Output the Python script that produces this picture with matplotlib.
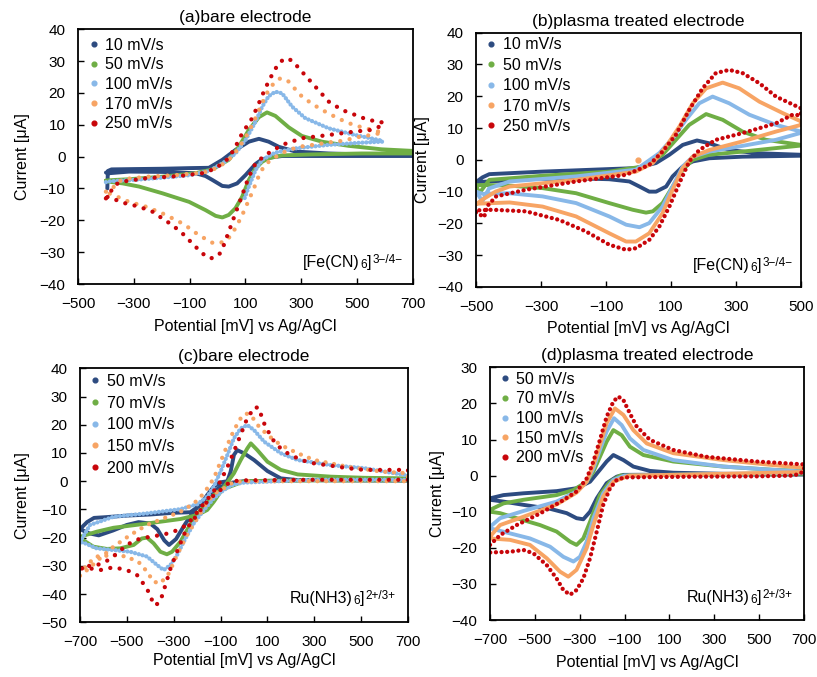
import matplotlib
matplotlib.use('Agg')
import matplotlib.pyplot as plt
from matplotlib.lines import Line2D

plt.rcParams['font.family'] = ['Liberation Sans', 'DejaVu Sans']

# ---------------- data (potential mV, current uA), forward + reverse sweep ----------------
# (a) bare electrode, ferricyanide
a10_E = [-395, -393, -380, -300, -200, -100, -31, 17, 64, 112, 148, 183, 219, 279, 398, 517, 700,
         700, 400, 231, 195, 160, 136, 100, 70, 40, 17, -19, -43, -79, -198, -317, -388, -400]
a10_I = [-10, -4.5, -4.0, -3.9, -3.8, -3.6, -3.5, -1.0, 2.1, 4.7, 5.6, 4.7, 3.1, 1.6, 1.0, 0.7, 0.5,
         0.2, 0.2, 0.2, -0.2, -0.8, -2.3, -5.8, -8.4, -9.4, -9.2, -7.3, -6.1, -5.2, -4.8, -4.7, -5.2, -5.0]
a50_E = [-400, -364, -317, -198, -79, -19, 40, 76, 112, 148, 177, 207, 255, 302, 374, 469, 588, 700,
         700, 517, 338, 231, 183, 160, 136, 112, 88, 64, 40, 17, -7, -43, -102, -198, -281, -340, -388, -400]
a50_I = [-7.5, -7.3, -7.1, -6.3, -5.2, -4.0, -1.0, 3.1, 8.4, 12.4, 13.9, 12.8, 9.2, 6.5, 4.7, 3.4, 2.3, 1.8,
         1.0, 1.0, 0.7, 0.4, -0.5, -1.6, -3.7, -7.3, -12.6, -16.2, -18.3, -19.1, -18.6, -16.8, -14.2, -11.5, -9.4, -8.4, -7.9, -7.6]
a100_E = [-400, -380, -300, -200, -100, -30, 20, 64, 100, 136, 160, 183, 207, 231, 267, 314, 398, 493, 590,
          590, 517, 398, 279, 207, 160, 136, 112, 95]
a100_I = [-8.0, -7.7, -7.3, -6.6, -5.8, -4.5, -2.0, 1.0, 5.2, 11.0, 15.7, 19.0, 20.4, 19.9, 15.7, 12.1, 8.9, 6.8, 5.0,
          4.7, 4.4, 3.7, 2.6, 1.3, -1.0, -4.2, -9.4, -13.5]
a170_E = [-400, -380, -360, -330, -250, -150, -50, 0, 40, 70, 100, 130, 155, 180, 205, 225, 250, 275, 302, 340,
          374, 410, 445, 480, 517, 550, 576, 590,
          590, 550, 500, 450, 400, 350, 300, 250, 200, 170, 150, 130, 110, 90, 70, 50, 30, 0, -20, -50,
          -79, -100, -138, -198, -257, -317, -364, -390]
a170_I = [-11.0, -10.5, -8.0, -7.0, -6.3, -5.8, -5.0, -3.5, -1.0, 2.0, 6.0, 11.0, 16.0, 20.5, 23.5, 24.6, 24.0, 21.5, 18.9, 16.5,
          14.7, 13.0, 11.5, 10.2, 9.2, 8.5, 7.9, 7.6,
          7.5, 6.8, 6.1, 5.0, 4.5, 3.8, 3.2, 2.0, -0.5, -2.5, -5.5, -10.0, -14.0, -18.0, -21.5, -24.5, -26.5, -27.3, -27.0, -25.5,
          -23.9, -22.5, -20.4, -17.8, -15.7, -14.2, -12.4, -11.5]
a250_E = [-400, -393, -370, -346, -257, -138, -55, -7, 40, 64, 88, 124, 148, 171, 195, 219, 243, 267, 302, 350,
          398, 445, 493, 540, 582, 595,
          595, 552, 493, 398, 302, 231, 171, 136, 112, 88, 64, 40, 20, 5, -25, -55, -90, -126, -162, -198,
          -233, -281, -329, -370, -393, -400]
a250_I = [-13.1, -12.6, -9.0, -7.9, -6.8, -6.1, -5.2, -3.7, -0.5, 3.1, 7.3, 12.1, 16.8, 21.5, 25.7, 29.4, 30.9, 30.2, 26.7, 22.0,
          17.3, 14.7, 13.1, 11.5, 11.0, 10.5,
          10.0, 8.4, 7.9, 6.8, 5.8, 3.7, 0.5, -2.1, -6.3, -12.1, -17.8, -23.6, -28.3, -30.9, -32.0, -30.4, -27.3, -24.1, -21.5, -19.4,
          -17.3, -15.7, -14.7, -13.4, -12.6, -13.0]

# (b) plasma treated electrode, ferricyanide
b10_E = [-500, -480, -459, -295, -90, -8, 54, 95, 136, 180, 218, 279, 362, 500,
         500, 320, 218, 167, 136, 105, 85, 54, 33, 3, -28, -90, -192, -346, -459, -500]
b10_I = [-7.0, -5.5, -4.5, -3.7, -2.9, -2.6, -1.0, 1.6, 4.7, 6.1, 5.2, 3.1, 2.1, 1.6,
         1.3, 1.0, 0.5, -0.5, -2.1, -5.2, -8.4, -10.0, -10.0, -8.4, -6.8, -6.1, -5.8, -6.1, -6.8, -7.0]
b50_E = [-500, -490, -459, -295, -90, 13, 74, 115, 156, 208, 259, 320, 392, 500,
         500, 423, 320, 218, 167, 136, 105, 74, 44, 23, -18, -90, -192, -295, -397, -479, -500]
b50_I = [-8.0, -10.5, -6.3, -5.0, -3.7, -2.1, 1.6, 6.3, 11.0, 14.4, 12.6, 8.9, 6.3, 4.7,
         4.5, 3.7, 2.6, 1.6, 0.0, -3.1, -8.4, -13.6, -16.2, -16.6, -15.7, -13.6, -10.5, -8.9, -8.1, -7.9, -8.0]
b100_E = [-500, -480, -460, -397, -192, -8, 64, 105, 146, 187, 228, 279, 341, 423, 500,
          500, 423, 320, 218, 167, 136, 105, 74, 33, 3, -38, -90, -192, -295, -397, -479, -500]
b100_I = [-10.0, -13.0, -9.0, -6.8, -5.2, -3.1, 2.1, 6.8, 12.6, 17.8, 19.9, 17.8, 14.2, 11.0, 8.9,
          8.5, 6.3, 4.4, 2.6, 1.0, -2.1, -8.4, -14.7, -19.9, -21.2, -20.4, -17.8, -13.6, -11.5, -10.5, -10.7, -10.0]
b170_E = [-500, -480, -440, -397, -192, -8, 44, 85, 126, 167, 208, 259, 310, 372, 444, 500,
          500, 423, 320, 218, 167, 136, 105, 74, 33, -8, -38, -90, -192, -295, -397, -500]
b170_I = [-14.0, -12.5, -10.0, -8.4, -6.3, -3.7, -1.0, 4.2, 10.5, 17.8, 22.5, 24.3, 22.5, 18.3, 14.7, 12.1,
          11.0, 8.9, 5.8, 3.1, 1.0, -2.6, -9.4, -16.8, -23.1, -25.7, -25.7, -23.1, -17.8, -14.7, -13.4, -13.8]
b170_stray_E = [-2]
b170_stray_I = [0.0]
b250_E = [-500, -475, -465, -438, -346, -192, -38, 33, 74, 115, 156, 197, 238, 279, 320, 372, 423, 500,
          500, 474, 423, 320, 238, 187, 156, 126, 95, 64, 33, -8, -38, -90, -162, -244, -346, -449, -500]
b250_I = [-16.5, -18.0, -14.5, -11.5, -9.4, -6.8, -4.7, -1.6, 2.6, 7.9, 15.7, 22.5, 27.3, 28.3, 27.3, 24.1, 19.9, 16.2,
          14.0, 14.2, 11.5, 8.4, 6.3, 3.1, -0.5, -7.3, -14.7, -21.0, -25.2, -27.8, -28.3, -26.7, -22.5, -18.9, -16.2, -15.7, -15.9]

# (c) bare electrode, ruthenium hexaammine
c50_E = [-700, -670, -640, -600, -550, -500, -400, -300, -229, -186, -157, -129, -100, -71, -57, -43, -29, 0, 43, 100,
         157, 229, 400, 700,
         700, 300, 0, -50, -100, -150, -200, -250, -290, -320, -340, -370, -400, -450, -500, -560, -620, -660, -700]
c50_I = [-17.0, -14.5, -13.0, -12.8, -12.5, -12.2, -11.8, -11.2, -11.0, -8.4, -4.9, -1.9, -0.4, 0.0, 3.4, 9.3, 11.0, 9.9, 7.5, 3.6,
         1.0, 0.4, 0.3, 0.3,
         0.3, 0.4, 0.0, -0.5, -2.0, -5.0, -9.0, -15.0, -20.5, -22.6, -21.0, -17.0, -15.0, -14.5, -15.5, -17.5, -19.2, -18.5, -17.0]
c70_E = [-700, -629, -557, -414, -271, -200, -157, -129, -100, -71, -43, -14, 14, 29, 57, 100, 157, 229, 371, 514, 700,
         700, 300, 0, -43, -100, -129, -157, -186, -214, -243, -271, -307, -329, -357, -386, -414, -436, -471,
         -529, -586, -643, -686, -700]
c70_I = [-19.7, -17.9, -16.5, -15.0, -13.4, -12.0, -10.2, -7.3, -3.7, -0.4, 2.8, 7.5, 11.6, 13.4, 11.0, 6.9, 4.0, 2.4, 1.6, 1.2, 1.0,
         0.3, 0.3, 0.0, -1.4, -3.1, -4.9, -7.8, -10.2, -13.2, -17.3, -21.4, -25.0, -25.9, -25.0, -22.0, -20.0, -20.3, -22.6,
         -23.8, -24.0, -23.2, -20.9, -20.0]
c100_E = [-700, -657, -557, -414, -271, -200, -157, -129, -100, -71, -43, -14, 14, 43, 86, 157, 229, 371, 514, 700,
          700, 300, 0, -43, -86, -129, -171, -214, -257, -286, -314, -343, -371, -414, -486, -557, -629, -679, -700]
c100_I = [-21.5, -15.5, -12.6, -11.4, -9.9, -8.2, -5.5, -1.9, 3.4, 9.3, 15.2, 18.7, 19.9, 18.1, 14.0, 9.9, 7.5, 5.7, 4.6, 2.0,
          0.5, 0.5, -0.5, -1.1, -3.1, -6.1, -10.2, -14.9, -21.4, -26.2, -29.7, -31.5, -29.7, -26.7, -25.0, -24.4, -23.8, -22.0, -21.5]
c150_E = [-700, -670, -643, -614, -557, -486, -414, -343, -271, -214, -171, -129, -100, -71, -43, -14, 7, 29, 57, 100,
          157, 229, 300, 443, 586, 700,
          700, 300, 0, -50, -71, -114, -157, -200, -243, -286, -321, -357, -386, -414, -443, -500, -557, -629, -670, -700]
c150_I = [-33.5, -31.5, -29.5, -27.3, -23.2, -19.1, -15.5, -13.2, -10.8, -7.9, -4.3, 1.0, 6.9, 12.8, 18.1, 22.3, 24.0, 23.5, 20.0, 16.4,
          12.8, 9.9, 7.5, 5.1, 3.4, 2.8,
          0.0, 0.0, 0.0, -0.5, -1.9, -3.7, -7.3, -13.2, -19.1, -26.2, -32.7, -36.2, -35.6, -32.1, -29.1, -26.7, -26.2, -26.7, -29.5, -33.0]
c200_E = [-700, -660, -620, -580, -540, -500, -443, -400, -343, -300, -243, -214, -186, -157, -129, -100, -71, -43, -14, 10,
          43, 64, 80, 100, 129, 157, 186, 243, 300, 371, 443, 514, 586, 700,
          700, 300, 0, -50, -71, -100, -136, -171, -200, -229, -257, -286, -314, -336, -357, -379, -400, -414, -436, -457,
          -500, -557, -614, -657, -700]
c200_I = [-31.0, -30.0, -29.5, -28.0, -25.5, -22.5, -20.3, -19.7, -18.9, -17.9, -15.5, -12.5, -9.5, -6.5, -3.5, 0.0, 5.0, 10.5, 16.5, 21.5,
          26.2, 26.0, 21.5, 18.1, 14.0, 11.6, 9.9, 7.5, 6.3, 5.5, 4.6, 4.0, 4.0, 4.0,
          0.5, 0.5, 0.3, 0.0, -1.0, -3.1, -5.5, -8.5, -12.0, -14.9, -19.0, -25.0, -31.0, -37.0, -42.5, -44.1, -41.0, -38.0, -35.6, -33.2,
          -31.5, -30.5, -31.5, -30.9, -30.9]

# (d) plasma treated electrode, ruthenium hexaammine
d50_E = [-700, -640, -551, -403, -314, -254, -210, -180, -150, -105, -61, 13, 117, 340, 700,
         700, 192, -105, -135, -180, -224, -254, -284, -314, -358, -432, -551, -640, -700]
d50_I = [-6.3, -5.4, -4.9, -4.3, -3.5, -1.7, 1.6, 3.9, 5.7, 4.3, 2.5, 1.3, 0.8, 0.5, 0.4,
         0.3, 0.3, 0.2, -0.3, -2.1, -6.3, -10.0, -12.1, -11.8, -10.4, -9.2, -8.1, -7.2, -6.7]
d70_E = [-700, -640, -551, -403, -328, -269, -239, -210, -180, -150, -113, -76, -16, 117, 340, 563, 700,
         700, 200, -120, -165, -210, -254, -284, -314, -343, -403, -477, -581, -655, -700]
d70_I = [-9.5, -7.7, -6.7, -5.4, -4.0, -1.7, 1.1, 5.2, 9.4, 12.6, 11.2, 8.0, 5.7, 3.9, 2.5, 1.6, 1.3,
         0.5, 0.3, 0.0, -1.7, -5.4, -12.8, -17.4, -19.2, -18.3, -15.5, -13.7, -11.8, -10.4, -10.0]
d100_E = [-700, -655, -551, -403, -314, -269, -239, -210, -180, -147, -113, -76, -16, 117, 340, 563, 700,
          700, 200, -100, -150, -195, -239, -269, -299, -328, -373, -432, -522, -611, -700]
d100_I = [-14.2, -11.8, -9.8, -7.2, -4.4, -1.7, 2.0, 7.1, 12.2, 15.9, 14.0, 10.3, 7.1, 4.3, 2.5, 1.6, 1.1,
          0.8, 0.3, 0.0, -1.2, -4.9, -11.8, -18.3, -22.5, -23.8, -22.5, -19.7, -17.4, -16.0, -14.6]
d150_E = [-700, -655, -551, -403, -314, -269, -239, -210, -180, -143, -105, -61, -1, 117, 340, 563, 700,
          700, 200, -80, -150, -195, -239, -269, -314, -351, -388, -447, -522, -611, -700]
d150_I = [-16.9, -13.7, -11.4, -8.0, -4.7, -1.7, 2.9, 8.5, 14.5, 18.6, 16.8, 12.6, 8.9, 6.2, 4.3, 2.9, 2.2,
          1.0, 0.3, 0.0, -1.7, -5.8, -13.7, -20.1, -26.1, -28.0, -26.6, -22.9, -19.2, -17.8, -17.4]
d200_E = [-700, -655, -581, -477, -373, -314, -269, -239, -210, -180, -150, -128, -105, -76, -46, 13, 117, 266, 489, 700,
          700, 680, 650, 500, 200, -100, -135, -165, -195, -224, -254, -284, -314, -343, -373, -403, -447, -507, -551,
          -611, -700]
d200_I = [-19.2, -16.5, -13.7, -10.5, -6.8, -4.4, -0.8, 3.9, 9.9, 16.3, 20.5, 21.9, 20.9, 17.2, 13.6, 9.9, 7.1, 5.2, 3.9, 3.1,
          1.3, 0.5, 0.0, -0.2, -0.3, -0.5, -1.2, -3.5, -8.1, -15.5, -22.9, -28.5, -31.7, -33.0, -31.7, -28.5, -24.8, -21.5, -20.6,
          -21.1, -21.3]

labels_fe = ['10 mV/s', '50 mV/s', '100 mV/s', '170 mV/s', '250 mV/s']
labels_ru = ['50 mV/s', '70 mV/s', '100 mV/s', '150 mV/s', '200 mV/s']
titles = ['(a)bare electrode', '(b)plasma treated electrode', '(c)bare electrode', '(d)plasma treated electrode']
xticks_a = [-500, -300, -100, 100, 300, 500, 700]
xticks_b = [-500, -300, -100, 100, 300, 500]
xticks_cd = [-700, -500, -300, -100, 100, 300, 500, 700]
fe_note = [('[Fe(CN)', 'n'), ('6', 'sub'), (']', 'n'), ('3\u2212/4\u2212', 'sup')]
ru_note = [('Ru(NH3)', 'n'), ('6', 'sub'), (']', 'n'), ('2+/3+', 'sup')]

# ---------------- styling ----------------
DB, GR, LB, OR, RD = '#2D4B80', '#6FAE45', '#88B8E8', '#F7A464', '#C8050A'
colors = [DB, GR, LB, OR, RD]

W, H = 817, 677
fig = plt.figure(figsize=(W / 100, H / 100), dpi=100)


def add_ax(l, r, t, b):
    return fig.add_axes([l / W, 1 - b / H, (r - l) / W, (b - t) / H])


def draw(ax, E, I, color, gap=None):
    if gap is None:
        ax.plot(E, I, color=color, lw=2.8, solid_joinstyle='round', solid_capstyle='round')
    else:
        ax.plot(E, I, color=color, lw=3.1, linestyle=(0, (0.01, gap)), dash_capstyle='round')


def note(ax, x, y, parts):
    fs_main, fs_small = 11.5, 8.5
    prev = None
    base = None
    for txt, kind in parts:
        if prev is None:
            prev = ax.text(x, y, txt, transform=ax.transAxes, ha='left', va='baseline', fontsize=fs_main)
            base = prev
            continue
        if kind == 'n':
            t = ax.annotate(txt, xy=(1, 0), xycoords=(prev, base), xytext=(0.3, 0),
                            textcoords='offset points', va='bottom', ha='left', fontsize=fs_main)
        elif kind == 'sub':
            t = ax.annotate(txt, xy=(1, 0), xycoords=(prev, base), xytext=(0.2, -1.0),
                            textcoords='offset points', va='bottom', ha='left', fontsize=fs_small)
        else:
            t = ax.annotate(txt, xy=(1, 1), xycoords=(prev, base), xytext=(0.4, 0.5),
                            textcoords='offset points', va='top', ha='left', fontsize=fs_small)
        prev = t


def style(ax, xlim, ylim, xticks, yticks, title, labels, note_parts, note_x, note_y,
          ylab_x, xlab_y, xpad, leg_y, leg_sp):
    ax.set_xlim(*xlim)
    ax.set_ylim(*ylim)
    ax.set_xticks(xticks)
    ax.set_yticks(yticks)
    ax.tick_params(direction='in', length=4, width=1, labelsize=11)
    ax.tick_params(axis='x', pad=xpad)
    ax.tick_params(axis='y', pad=9)
    for s in ax.spines.values():
        s.set_linewidth(1.3)
        s.set_color('black')
    ax.set_title(title, fontsize=12.5, pad=5)
    ax.set_xlabel('Potential [mV] vs Ag/AgCl', fontsize=11.5)
    ax.set_ylabel('Current [μA]', fontsize=11.5)
    ax.yaxis.label.set_va('center')
    ax.xaxis.label.set_va('center')
    ax.yaxis.set_label_coords(ylab_x, 0.5)
    ax.xaxis.set_label_coords(0.5, xlab_y)
    handles = [Line2D([], [], marker='o', ms=3.4, ls='none', color=c) for c in colors]
    ax.legend(handles, labels, loc='upper left', bbox_to_anchor=(0.03, leg_y), frameon=False,
              fontsize=11.5, handlelength=0.7, handletextpad=0.35, labelspacing=leg_sp,
              borderpad=0, borderaxespad=0)
    note(ax, note_x, note_y, note_parts)


# (a)
ax = add_ax(78, 413, 29.3, 284)
draw(ax, a10_E, a10_I, DB)
draw(ax, a50_E, a50_I, GR)
draw(ax, a100_E, a100_I, LB, gap=0.9)
draw(ax, a170_E, a170_I, OR, gap=2.2)
draw(ax, a250_E, a250_I, RD, gap=2.2)
style(ax, (-500, 700), (-40, 40), xticks_a, range(-40, 41, 10), titles[0], labels_fe,
      fe_note, 0.672, 0.067, -0.165, -0.165, 9.5, 0.967, 0.29)

# (b)
ax = add_ax(476, 801, 32.7, 287)
draw(ax, b10_E, b10_I, DB)
draw(ax, b50_E, b50_I, GR)
draw(ax, b100_E, b100_I, LB)
draw(ax, b170_E, b170_I, OR)
ax.plot(b170_stray_E, b170_stray_I, 'o', ms=3.5, color=OR)
draw(ax, b250_E, b250_I, RD, gap=1.3)
style(ax, (-500, 500), (-40, 40), xticks_b, range(-40, 41, 10), titles[1], labels_fe,
      fe_note, 0.668, 0.067, -0.165, -0.165, 9.5, 0.982, 0.34)

# (c)
ax = add_ax(80, 408, 368.3, 622.3)
draw(ax, c50_E, c50_I, DB)
draw(ax, c70_E, c70_I, GR)
draw(ax, c100_E, c100_I, LB, gap=0.9)
draw(ax, c150_E, c150_I, OR, gap=2.0)
draw(ax, c200_E, c200_I, RD, gap=2.2)
style(ax, (-700, 700), (-50, 40), xticks_cd, range(-50, 41, 10), titles[2], labels_ru,
      ru_note, 0.640, 0.076, -0.175, -0.15, 9.0, 0.978, 0.42)

# (d)
ax = add_ax(490, 804, 367.3, 620)
draw(ax, d50_E, d50_I, DB)
draw(ax, d70_E, d70_I, GR)
draw(ax, d100_E, d100_I, LB)
draw(ax, d150_E, d150_I, OR)
draw(ax, d200_E, d200_I, RD, gap=1.3)
style(ax, (-700, 700), (-40, 30), xticks_cd, range(-40, 31, 10), titles[3], labels_ru,
      ru_note, 0.627, 0.071, -0.168, -0.17, 9.5, 0.982, 0.29)

fig.savefig('out.png', dpi=100)
